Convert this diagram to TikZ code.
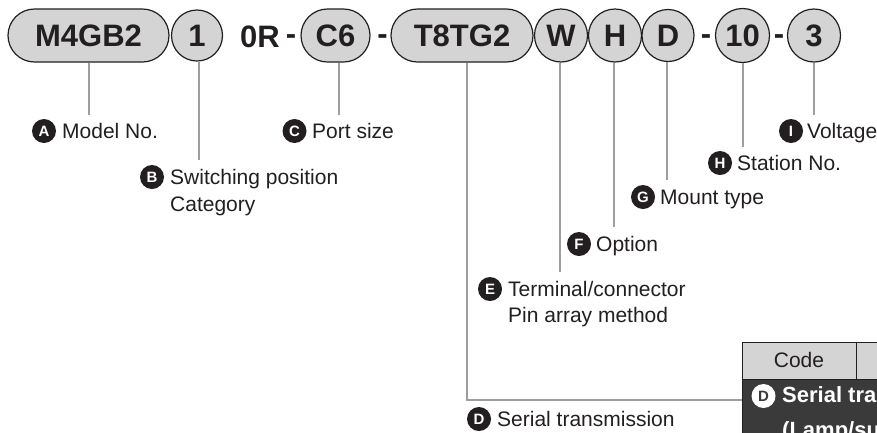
\documentclass[tikz,border=0pt]{standalone}
\usepackage{fontspec}
\setmainfont{Liberation Sans}
\usetikzlibrary{shapes.misc}
\definecolor{ink}{HTML}{231F20}
\definecolor{pillfill}{HTML}{D4D4D4}
\definecolor{conncol}{HTML}{9E9E9E}
\definecolor{darkrow}{HTML}{3A3A3A}
\begin{document}
\begin{tikzpicture}[x=1pt,y=-1pt,
  pill/.style={rounded rectangle, draw=ink, line width=1.2pt, fill=pillfill, minimum height=53pt, inner sep=0pt, font=\fontsize{31}{36}\selectfont\bfseries, text=ink},
  disc/.style={circle, draw=ink, line width=1.2pt, fill=pillfill, minimum size=53pt, inner sep=0pt, font=\fontsize{31}{36}\selectfont\bfseries, text=ink},
  codetxt/.style={font=\fontsize{31}{36}\selectfont\bfseries, text=ink, inner sep=0pt, anchor=base},
  conn/.style={draw=conncol, line width=2pt},
  badge/.style={circle, fill=ink, text=white, minimum size=24pt, inner sep=0pt, font=\fontsize{15}{15}\selectfont\bfseries},
  lbl/.style={anchor=base west, inner sep=0pt, text=ink, font=\fontsize{21}{26}\selectfont},
  tbl/.style={draw=ink, line width=1.3pt},
]
\useasboundingbox (0,0) rectangle (877,432);
\fill[white] (0,0) rectangle (877,432);

% part number
\node[pill, minimum width=161pt] (m4) at (88.5,35.5) {M4GB2};
\node[disc, minimum size=51pt] (c1) at (197,35.5) {1};
\node[codetxt] (zr) at (260,47) {0R};
\node[codetxt] (d1) at (291,44) {-};
\node[pill, minimum width=69pt] (c6) at (335.5,35.5) {C6};
\node[codetxt] (d2) at (382.5,44) {-};
\node[pill, minimum width=142pt] (t8) at (462,35.5) {T8TG2};
\node[disc] (w) at (561,35.5) {W};
\node[disc] (h) at (615,35.5) {H};
\node[disc, minimum size=52pt] (d) at (668,35.5) {D};
\node[codetxt] (d3) at (706,44) {-};
\node[disc, minimum size=54pt] (ten) at (742.5,35.5) {10};
\node[codetxt] (d4) at (779,44) {-};
\node[disc, minimum size=53pt] (three) at (814,35.5) {3};

% line ends
\coordinate (eA) at (89,115);
\coordinate (eB) at (199,160);
\coordinate (eC) at (339,115);
\coordinate (eD) at (467,400);
\coordinate (eE) at (560,272);
\coordinate (eF) at (614,227);
\coordinate (eG) at (667,180);
\coordinate (eH) at (743,147);
\coordinate (eI) at (814,115);

% table
\begin{scope}
\clip (0,0) rectangle (877,432);
\node[tbl, fill=pillfill, anchor=north west, minimum width=114pt, minimum height=37pt, inner sep=0pt] (hcode) at (742,342) {};
\node[tbl, fill=pillfill, anchor=north west, minimum width=60pt, minimum height=37pt, inner sep=0pt] (hnext) at (856,342) {};
\node[tbl, fill=darkrow, anchor=north west, minimum width=180pt, minimum height=80pt, inner sep=0pt] (drow) at (742,379) {};
\node[anchor=base, inner sep=0pt, text=ink, font=\fontsize{21}{26}\selectfont] (codelbl) at (799,367) {Code};
\node[circle, fill=white, text=darkrow, minimum size=24pt, inner sep=0pt, font=\fontsize{15}{15}\selectfont\bfseries] (bdT) at (763.5,396) {D};
\node[anchor=base west, inner sep=0pt, text=white, font=\fontsize{22}{26}\selectfont\bfseries] (serT) at (782,402) {Serial transmission};
\node[anchor=base west, inner sep=0pt, text=white, font=\fontsize{22}{26}\selectfont\bfseries] (lampT) at (782,437) {(Lamp/su};
\end{scope}

% connectors
\draw[conn] (m4.south -| eA) -- (eA);
\draw[conn] (c1.south -| eB) -- (eB);
\draw[conn] (c6.south -| eC) -- (eC);
\draw[conn] (t8.south -| eD) -- (eD) -- (eD -| drow.west);
\draw[conn] (w.south -| eE) -- (eE);
\draw[conn] (h.south -| eF) -- (eF);
\draw[conn] (d.south -| eG) -- (eG);
\draw[conn] (ten.south -| eH) -- (eH);
\draw[conn] (three.south -| eI) -- (eI);

% labels
\node[badge] (bA) at (44,131) {A};
\node[lbl] (tA) at (62,138) {Model No.};
\node[badge] (bB) at (152,177) {B};
\node[lbl] (tB1) at (170,184) {Switching position};
\node[lbl] (tB2) at (170,211) {Category};
\node[badge] (bC) at (294.5,131) {C};
\node[lbl] (tC) at (312,138) {Port size};
\node[badge] (bI) at (791,131) {I};
\node[lbl] (tI) at (807,138) {Voltage};
\node[badge] (bH) at (720,163) {H};
\node[lbl] (tH) at (737,170) {Station No.};
\node[badge] (bG) at (643,197) {G};
\node[lbl] (tG) at (660,204) {Mount type};
\node[badge] (bF) at (579,244) {F};
\node[lbl] (tF) at (596,251) {Option};
\node[badge] (bE) at (490,289) {E};
\node[lbl] (tE1) at (508,296) {Terminal/connector};
\node[lbl] (tE2) at (508,322) {Pin array method};
\node[badge] (bD) at (479,419) {D};
\node[lbl] (tD) at (497,426) {Serial transmission};
\end{tikzpicture}
\end{document}
